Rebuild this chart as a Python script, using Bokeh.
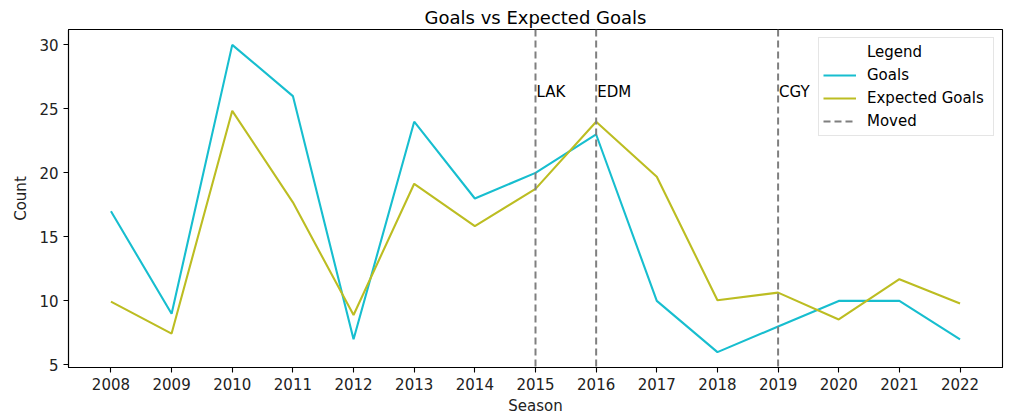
from bokeh.plotting import figure
from bokeh.models import Span, Legend, LegendItem, FixedTicker, Range1d
from bokeh.core.properties import value
from bokeh.embed import file_html
from bokeh.resources import INLINE

seasons = [2008, 2009, 2010, 2011, 2012, 2013, 2014, 2015, 2016, 2017, 2018, 2019, 2020, 2021, 2022]
goals = [17, 9, 30, 26, 7, 24, 18, 20, 23, 10, 6, 8, 10, 10, 7]
expected_goals = [9.95, 7.45, 24.85, 17.7, 8.9, 19.15, 15.85, 18.75, 24.0, 19.7, 10.05, 10.65, 8.55, 11.7, 9.8]
moved_years = [2015, 2016, 2019]
moved_teams = ["LAK", "EDM", "CGY"]
y_ticks = [5, 10, 15, 20, 25, 30]

FONT = "DejaVu Sans"
FS = "15px"
CYAN = "#17becf"
OLIVE = "#bcbd22"
GREY = "#7f7f7f"
NAN = float("nan")

p = figure(width=1024, height=420, output_backend="svg", toolbar_location=None,
           x_range=Range1d(2007.3, 2022.7), y_range=Range1d(4.8, 31.2),
           title="Goals vs Expected Goals",
           min_border_left=68, min_border_right=22, min_border_top=29, min_border_bottom=53)

p.title.align = "center"
p.title.text_font = FONT
p.title.text_font_size = "18px"
p.title.text_font_style = "normal"
p.title.text_color = "#000000"
p.title.standoff = 4

p.xgrid.visible = False
p.ygrid.visible = False
p.outline_line_color = "#000000"
p.outline_line_width = 1.1
p.background_fill_color = "white"
p.border_fill_color = "white"

for ax in (p.xaxis[0], p.yaxis[0]):
    ax.axis_line_color = "#000000"
    ax.axis_line_width = 1.1
    ax.major_tick_line_color = "#000000"
    ax.major_tick_line_width = 1.1
    ax.major_tick_out = 5
    ax.major_tick_in = 0
    ax.minor_tick_line_color = None
    ax.major_label_text_font = FONT
    ax.major_label_text_font_size = FS
    ax.major_label_text_color = "#222222"
    ax.major_label_standoff = 5
    ax.axis_label_text_font = FONT
    ax.axis_label_text_font_size = FS
    ax.axis_label_text_font_style = "normal"
    ax.axis_label_text_color = "#222222"

p.xaxis.ticker = FixedTicker(ticks=seasons)
p.yaxis.ticker = FixedTicker(ticks=y_ticks)
p.xaxis.axis_label = "Season"
p.yaxis.axis_label = "Count"
p.xaxis.axis_label_standoff = 4
p.yaxis.axis_label_standoff = 6

r_goals = p.line(seasons, goals, line_color=CYAN, line_width=2.1)
r_xg = p.line(seasons, expected_goals, line_color=OLIVE, line_width=2.1)

for yr in moved_years:
    p.add_layout(Span(location=yr, dimension="height", line_color=GREY,
                      line_width=2, line_dash="7 4"))

# legend-only renderers (NaN values draw nothing in the plot area)
r_moved = p.line(x=moved_years, y=[NAN] * len(moved_years), line_color=GREY,
                 line_width=2, line_dash="7 4")
r_title = p.line(x=moved_years, y=[NAN] * len(moved_years), line_alpha=0)

p.text(x=moved_years, y=[26.35] * len(moved_years), text=moved_teams,
       text_font=value(FONT), text_font_size=FS, text_color="#000000",
       text_baseline="middle", text_align="left", x_offset=1)

legend = Legend(items=[
    LegendItem(label="Legend", renderers=[r_title]),
    LegendItem(label="Goals", renderers=[r_goals]),
    LegendItem(label="Expected Goals", renderers=[r_xg]),
    LegendItem(label="Moved", renderers=[r_moved]),
], location="top_right")
legend.margin = 8
legend.padding = 4
legend.spacing = 3
legend.glyph_width = 33
legend.glyph_height = 20
legend.label_height = 20
legend.label_width = 122
legend.label_standoff = 11
legend.label_text_font = FONT
legend.label_text_font_size = FS
legend.label_text_color = "#000000"
legend.border_line_color = "#cccccc"
legend.border_line_width = 1
legend.background_fill_color = "white"
legend.background_fill_alpha = 0.8
p.add_layout(legend)

open("out.html", "w").write(file_html(p, INLINE))
